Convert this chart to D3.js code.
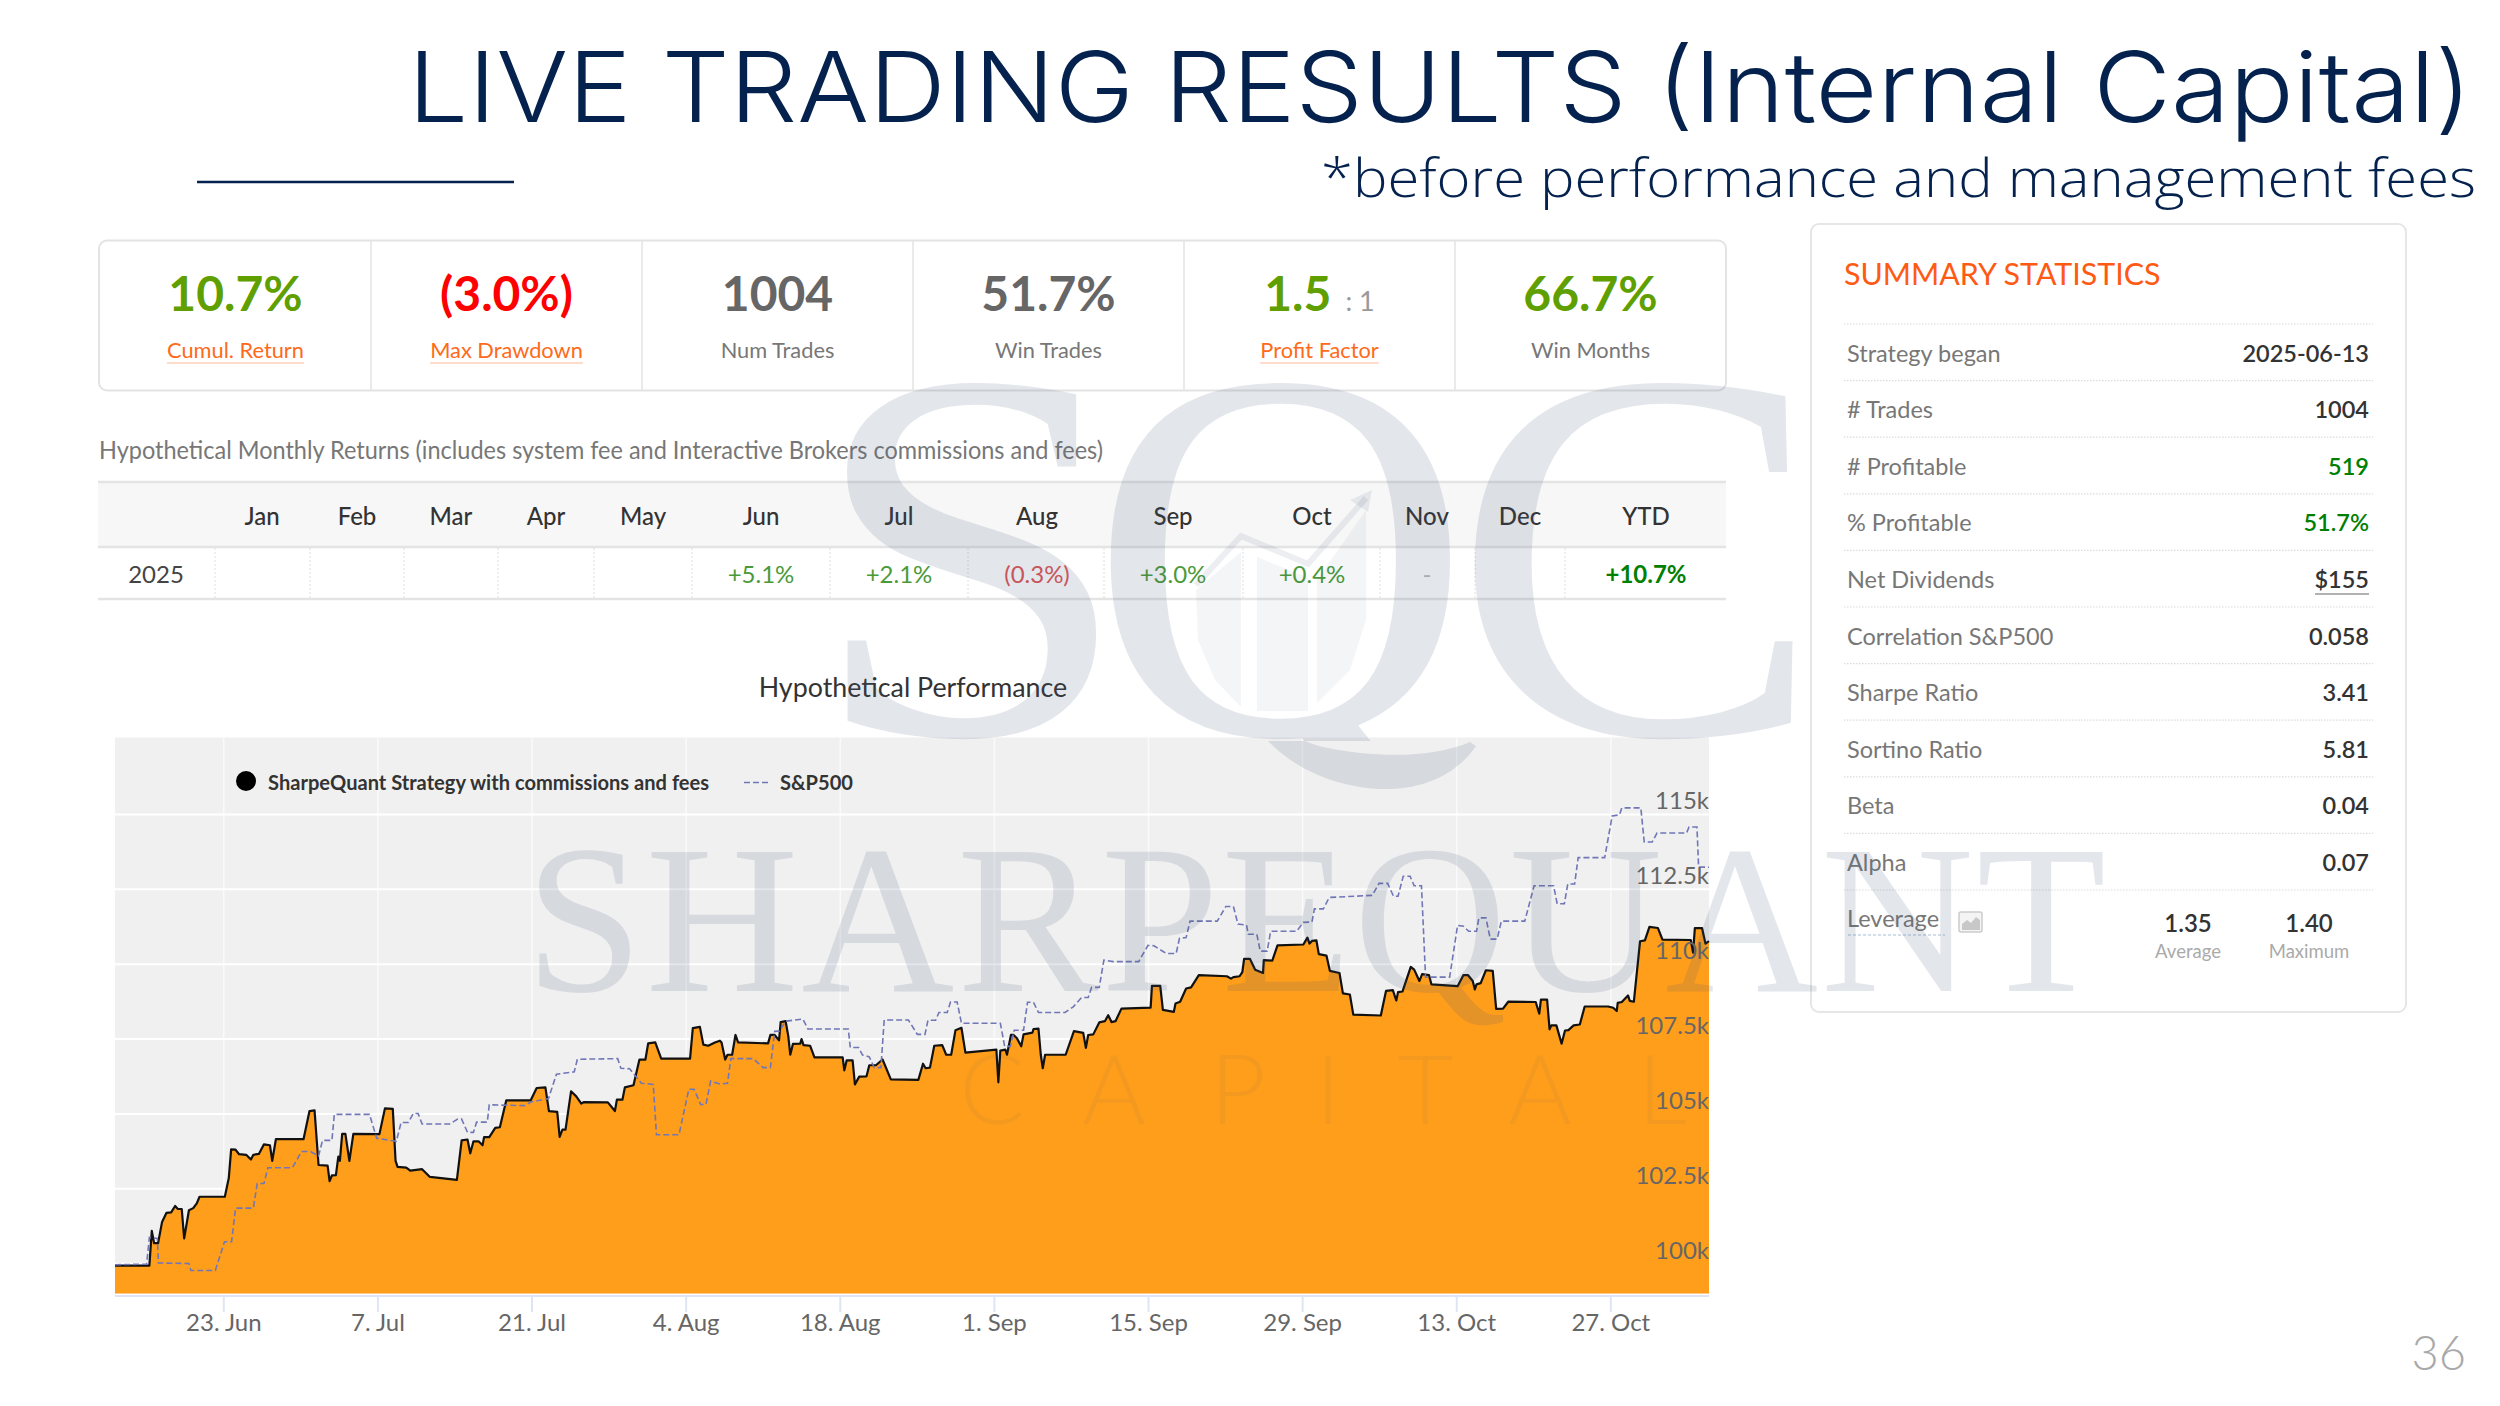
<!DOCTYPE html>
<html><head><meta charset="utf-8">
<script src="https://cdn.jsdelivr.net/npm/d3@7"></script>
<style>html,body{margin:0;padding:0;background:#fff;overflow:hidden}svg{display:block;font-family:Lato,sans-serif}</style>
</head><body><svg id="c" width="2500" height="1406"></svg>
<script>
// ---------- DATA (days since 2025-06-13, equity in $k) ----------
const strategyDays=[0.20,3.31,3.53,3.74,4.10,4.46,4.85,5.28,5.64,5.89,6.24,6.46,6.89,7.28,7.60,7.85,10.14,10.50,10.71,11.11,11.43,12.07,12.50,12.72,13.22,13.68,14.22,14.43,14.76,17.26,17.80,18.26,18.62,19.44,19.62,19.83,20.19,20.41,20.55,20.76,21.05,21.41,21.77,24.13,24.63,25.34,25.59,25.77,26.56,26.92,27.99,28.70,31.14,31.57,32.10,32.35,32.64,33.10,33.46,33.60,34.07,34.61,35.03,35.61,37.82,38.36,39.15,39.47,40.22,40.44,40.69,40.97,41.47,41.94,42.40,42.65,44.80,45.44,45.62,46.12,46.34,47.12,47.66,48.20,48.45,49.09,49.63,52.24,52.49,53.13,53.44,53.89,54.49,54.94,55.09,55.42,55.63,56.05,56.35,56.59,59.30,59.51,59.90,60.29,60.44,60.89,61.13,61.31,61.55,62.21,62.33,62.51,63.11,63.50,66.05,66.20,66.41,66.95,67.16,67.55,68.21,68.46,69.06,69.66,70.41,72.90,73.32,73.56,73.95,74.34,75.06,75.42,75.87,76.26,76.80,77.16,79.96,80.14,80.32,80.77,80.92,81.28,81.52,81.82,82.21,82.42,83.23,83.32,83.77,83.98,84.16,84.37,86.23,86.98,87.82,88.06,88.27,88.73,89.27,89.78,90.08,90.38,90.74,91.28,93.92,94.04,94.79,95.03,96.02,96.17,96.59,97.13,97.58,98.28,100.82,101.19,101.41,101.97,102.22,102.38,102.91,103.38,104.09,104.16,104.93,105.40,107.74,108.11,108.30,108.52,108.92,109.14,109.83,110.14,111.01,111.32,111.95,112.26,114.75,115.22,115.84,116.15,116.31,116.71,117.46,117.77,118.24,118.49,119.11,119.33,121.70,122.23,122.63,123.07,123.26,123.41,123.79,124.26,124.88,125.19,125.81,126.28,128.77,129.09,129.24,129.80,130.02,130.18,130.64,131.11,131.42,131.73,132.20,132.76,133.20,135.32,135.78,136.10,136.19,136.56,137.12,137.28,137.65,138.21,138.65,139.06,139.83,140.24,142.80,143.01,143.17,143.82,144.13,144.45];
const strategyValues=[99.92,99.92,101.08,100.67,100.67,101.38,101.68,101.70,101.91,101.81,101.81,100.83,101.77,101.84,102.00,102.22,102.22,102.85,103.80,103.79,103.64,103.62,103.46,103.62,103.65,103.97,103.94,103.42,104.14,104.14,105.08,105.10,103.28,103.26,102.74,102.93,102.94,103.56,103.42,104.32,104.32,103.42,104.32,104.31,105.17,105.15,103.42,103.22,103.19,103.09,103.14,102.88,102.78,104.10,104.13,103.67,104.07,104.07,103.94,104.21,104.21,104.52,104.54,105.44,105.44,105.85,105.87,105.08,105.05,104.22,104.46,104.46,105.74,105.57,105.33,105.38,105.37,105.08,105.46,105.46,105.87,105.94,106.80,106.80,107.34,107.37,106.83,106.83,107.85,107.89,107.30,107.26,107.37,107.43,107.37,106.80,106.96,106.96,107.62,107.37,107.34,107.62,107.62,107.44,108.05,108.08,107.58,106.96,107.32,107.33,107.48,107.28,107.26,106.87,106.87,106.44,106.77,106.77,105.97,106.23,106.24,106.61,106.61,106.80,106.14,106.12,106.66,106.51,106.53,107.26,107.28,106.96,106.96,107.78,107.86,107.03,107.13,106.04,107.10,107.13,106.96,107.62,107.62,107.51,107.24,107.64,107.70,107.82,107.83,106.96,106.51,106.96,106.96,107.75,107.69,107.19,107.62,107.64,108.04,108.08,108.28,108.05,108.08,108.50,108.53,109.26,109.26,108.46,108.39,108.67,108.73,109.17,109.21,109.62,109.58,109.50,109.55,109.58,109.72,110.16,110.16,109.80,109.69,110.12,110.10,110.61,110.64,110.87,110.67,110.76,110.78,110.32,110.27,109.76,109.69,109.01,108.97,108.30,108.27,109.09,109.12,108.77,109.05,109.07,109.89,109.80,109.42,109.65,109.62,109.31,109.25,109.62,109.62,109.42,109.14,109.31,109.35,109.78,109.76,108.49,108.50,108.73,108.72,108.33,108.80,108.80,107.81,107.94,107.94,107.33,107.77,107.78,107.94,107.97,108.57,108.57,108.53,108.42,108.69,108.72,108.94,108.76,108.73,110.75,110.78,111.23,111.19,110.80,110.79,110.37,111.19,111.19,110.67,110.75];
const spDays=[0.20,3.06,3.31,4.03,4.13,6.89,7.07,9.28,10.11,10.75,11.11,12.72,13.07,13.68,14.04,16.26,17.08,17.90,18.62,18.98,19.83,20.05,23.23,23.88,25.66,26.09,26.74,27.20,27.63,27.99,30.49,31.21,31.57,32.10,32.64,32.92,33.89,34.07,37.29,37.82,39.43,40.15,41.76,42.04,45.69,45.98,46.77,47.84,48.91,49.20,51.24,52.13,52.60,53.20,53.68,54.10,54.94,55.63,55.93,57.94,58.85,59.51,59.90,60.35,60.89,62.45,62.90,66.56,66.74,67.49,67.85,68.46,68.91,69.51,69.81,72.00,72.81,73.50,73.77,74.46,74.76,75.51,75.81,76.41,76.80,80.32,80.71,81.22,81.58,82.42,82.78,83.32,83.77,86.17,86.92,87.67,88.27,88.58,89.27,89.69,90.53,92.84,93.68,94.22,95.33,96.23,96.53,97.13,97.49,99.95,100.73,101.41,101.82,102.60,102.75,103.53,103.84,104.47,104.78,107.12,107.74,108.52,108.74,109.55,110.08,113.97,114.59,115.37,115.90,116.31,116.78,117.40,117.77,118.43,118.80,120.98,121.70,122.23,122.70,123.41,123.63,124.26,124.66,125.28,125.66,127.78,128.62,130.39,130.71,131.36,131.67,132.29,132.61,135.01,135.69,136.35,136.56,138.28,138.59,139.31,139.74,142.42,142.64,143.36,143.51,144.45];
const spValues=[99.95,99.97,100.86,100.83,100.01,99.99,99.76,99.76,100.72,100.72,101.84,101.84,102.66,102.66,103.19,103.19,103.73,103.73,103.58,104.10,104.10,104.97,104.97,104.17,104.07,104.70,104.70,105.00,105.00,104.65,104.65,104.81,104.81,104.37,104.37,104.71,104.71,105.29,105.26,105.38,105.50,106.31,106.39,106.81,106.83,106.51,106.49,106.01,105.97,104.29,104.29,105.81,105.81,105.30,105.30,106.08,105.98,106.01,106.83,106.83,106.53,106.53,107.74,107.75,108.08,108.15,107.82,107.82,107.20,107.20,106.95,106.89,106.53,106.53,108.12,108.12,107.64,107.64,108.11,108.11,108.37,108.37,108.72,108.72,108.01,108.01,107.24,107.24,107.78,107.78,108.71,108.71,108.37,108.37,108.56,108.87,108.87,109.21,109.21,110.12,110.07,110.07,110.61,110.60,110.34,110.34,110.85,110.87,111.42,111.42,111.91,111.91,111.32,111.29,110.98,110.98,110.42,110.42,111.08,111.08,111.38,111.39,111.83,111.83,112.21,112.28,112.68,112.68,112.25,112.25,112.92,112.92,112.60,112.60,109.55,109.55,111.28,111.25,111.08,111.08,111.53,111.53,110.82,110.82,111.42,111.42,112.60,112.60,112.00,112.00,112.66,112.66,113.54,113.54,114.93,114.97,115.20,115.20,114.06,114.06,114.36,114.36,114.56,114.56,113.23,113.22];
const xTickDates=["2025-06-23","2025-07-07","2025-07-21","2025-08-04","2025-08-18","2025-09-01","2025-09-15","2025-09-29","2025-10-13","2025-10-27"];
const xTickLabels=["23. Jun","7. Jul","21. Jul","4. Aug","18. Aug","1. Sep","15. Sep","29. Sep","13. Oct","27. Oct"];
const yTickValues=[100,102.5,105,107.5,110,112.5,115];
const yTickLabels=["100k","102.5k","105k","107.5k","110k","112.5k","115k"];
const seriesNames=["SharpeQuant Strategy with commissions and fees","S&P500"];
const kpiValues=["10.7%","(3.0%)","1004","51.7%","1.5","66.7%"];
const kpiLabels=["Cumul. Return","Max Drawdown","Num Trades","Win Trades","Profit Factor","Win Months"];
const kpiColors=["#5fa000","#ff0000","#666","#666","#5fa000","#5fa000"];
const kpiLinked=[true,true,false,false,true,false];
const monthNames=["Jan","Feb","Mar","Apr","May","Jun","Jul","Aug","Sep","Oct","Nov","Dec","YTD"];
const monthReturns=["","","","","","+5.1%","+2.1%","(0.3%)","+3.0%","+0.4%","-","","+10.7%"];
const statLabels=["Strategy began","# Trades","# Profitable","% Profitable","Net Dividends","Correlation S&P500","Sharpe Ratio","Sortino Ratio","Beta","Alpha"];
const statValues=["2025-06-13","1004","519","51.7%","$155","0.058","3.41","5.81","0.04","0.07"];
const statColors=["#333","#333","#008000","#008000","#333","#333","#333","#333","#333","#333"];
const leverageValues=["1.35","1.40"];
const leverageLabels=["Average","Maximum"];

// ---------- LAYOUT ----------
const svg=d3.select("#c");
const navy="#04224d";
const T=(x,y,s,size,fill,anchor,weight)=>svg.append("text").attr("x",x).attr("y",y).text(s)
  .attr("font-size",size).attr("fill",fill).attr("text-anchor",anchor||"start").attr("font-weight",weight||400);

// header
T(408,122,"LIVE TRADING RESULTS (Internal Capital)",98,navy,"start",300).attr("font-family","Inter")
  .attr("textLength",2064).attr("lengthAdjust","spacingAndGlyphs");
T(1321,197,"*before performance and management fees",54,navy,"start",300).attr("font-family","'Open Sans'")
  .attr("textLength",1155).attr("lengthAdjust","spacingAndGlyphs");
svg.append("line").attr("x1",197).attr("x2",514).attr("y1",182).attr("y2",182).attr("stroke",navy).attr("stroke-width",2.5);
T(2466,1370,"36",47,"#a8a8a8","end",300);

// KPI strip
svg.append("rect").attr("x",99).attr("y",240.5).attr("width",1627).attr("height",150).attr("rx",8)
  .attr("fill","#fff").attr("stroke","#e3e3e3").attr("stroke-width",2);
const kpiX=d3.scaleLinear().domain([0,6]).range([100,1726]);
kpiValues.forEach((v,i)=>{
  const cx=(kpiX(i)+kpiX(i+1))/2;
  if(i>0) svg.append("line").attr("x1",kpiX(i)).attr("x2",kpiX(i)).attr("y1",241).attr("y2",390).attr("stroke","#e3e3e3").attr("stroke-width",1.5);
  const t=T(cx,311,v,48,kpiColors[i],"middle",700);
  if(v==="1.5"){t.append("tspan").text(": 1").attr("dx",14).attr("font-size",27).attr("fill","#999").attr("font-weight",400);}
  const lab=T(cx,358,kpiLabels[i],21.8,kpiLinked[i]?"#ff6a1a":"#777","middle");
  if(kpiLinked[i]){const w=lab.node().getComputedTextLength();
    svg.append("line").attr("x1",cx-w/2).attr("x2",cx+w/2).attr("y1",363).attr("y2",363).attr("stroke","#ffd0b8").attr("stroke-width",1.5);}
});

// monthly table
T(99,459,"Hypothetical Monthly Returns (includes system fee and Interactive Brokers commissions and fees)",25,"#777")
  .attr("textLength",1004).attr("lengthAdjust","spacingAndGlyphs");
svg.append("rect").attr("x",98).attr("y",482).attr("width",1628).attr("height",65).attr("fill","#f7f7f7");
[482,547,599].forEach(y=>svg.append("line").attr("x1",98).attr("x2",1726).attr("y1",y).attr("y2",y).attr("stroke","#e4e4e4").attr("stroke-width",2.5));
const colCenters=[262,357,451,546,643,761,899,1037,1173,1312,1427,1520,1646];
const colDividers=[215,310,404,498,594,692,830,968,1104,1243,1380,1475,1565];
colDividers.forEach(x=>svg.append("line").attr("x1",x).attr("x2",x).attr("y1",548).attr("y2",598).attr("stroke","#dedede").attr("stroke-dasharray","2 2"));
T(156,583,"2025",24,"#444","middle");
monthNames.forEach((m,i)=>{
  T(colCenters[i],525,m,24,"#333","middle",500);
  const r=monthReturns[i]; if(!r) return;
  let col=r.startsWith("(")?"#e05555":"#4a9a3a", w=400;
  if(m==="YTD"){col="#008000";w=700;} if(r==="-") col="#bbb";
  T(colCenters[i],583,r,24,col,"middle",w);
});

// ---------- CHART ----------
const P={l:115,r:1709,t:737.5,b:1293.5};
// day offsets were read against a 11.05 px/day ruler; the axis ticks sit 11.008 px/day apart
const dayStretch=1.00382, dayShift=-0.039;
const day0=Date.UTC(2025,5,13), toDate=d=>new Date(day0+(dayStretch*d+dayShift)*864e5);
const x=d3.scaleUtc().domain([toDate(0.2),toDate(144.45)]).range([P.l,P.r]);
const y=d3.scaleLinear().domain([98.99,117.55]).range([P.b,P.t]);
T(913,697,"Hypothetical Performance",26.8,"#333","middle");
svg.append("rect").attr("x",P.l).attr("y",P.t).attr("width",P.r-P.l).attr("height",P.b-P.t).attr("fill","#f0f0f0");
const xTicks=xTickDates.map(s=>new Date(s+"T00:00:00Z"));
// gridlines
const gx=svg.append("g").attr("transform",`translate(0,${P.b})`)
  .call(d3.axisBottom(x).tickValues(xTicks).tickSize(-(P.b-P.t)).tickFormat(""));
gx.select(".domain").remove(); gx.selectAll("line").attr("stroke","#fafafa").attr("stroke-width",1.5);
const gy=svg.append("g").attr("transform",`translate(${P.r},0)`)
  .call(d3.axisLeft(y).tickValues(yTickValues).tickSize(P.r-P.l).tickFormat(""));
gy.select(".domain").remove(); gy.selectAll("line").attr("stroke","#fff").attr("stroke-width",2);
// series
const strat=strategyDays.map((d,i)=>[toDate(d),strategyValues[i]]);
const sp=spDays.map((d,i)=>[toDate(d),spValues[i]]);
svg.append("path").datum(strat).attr("fill","#ff9e1b")
  .attr("d",d3.area().x(d=>x(d[0])).y0(P.b).y1(d=>y(d[1])));
const ln=d3.line().x(d=>x(d[0])).y(d=>y(d[1]));
svg.append("path").datum(strat).attr("fill","none").attr("stroke","#111").attr("stroke-width",2.2).attr("stroke-linejoin","round").attr("d",ln);
svg.append("path").datum(sp).attr("fill","none").attr("stroke","#7076b6").attr("stroke-width",1.6).attr("stroke-dasharray","6 3").attr("d",ln);
// x axis
const ax=svg.append("g").attr("transform","translate(0,1296)")
  .call(d3.axisBottom(x).tickValues(xTicks).tickSize(16).tickPadding(4).tickFormat((d,i)=>xTickLabels[i]));
ax.select(".domain").attr("stroke","#dfe5f4").attr("stroke-width",2).attr("d",`M${P.l},0H${P.r}`);
ax.selectAll("line").attr("stroke","#dfe5f4").attr("stroke-width",2);
ax.selectAll("text").attr("font-family","Lato").attr("font-size",24).attr("fill","#666").attr("y",35).attr("dy",0);
// y axis labels sit above gridlines, inside the plot
const ay=svg.append("g").attr("transform",`translate(${P.r},0)`)
  .call(d3.axisLeft(y).tickValues(yTickValues).tickSize(0).tickPadding(0).tickFormat((d,i)=>yTickLabels[i]));
ay.select(".domain").remove();
ay.selectAll("text").attr("font-family","Lato").attr("font-size",24).attr("fill","#666").attr("text-anchor","end").attr("dy",-5);
// legend
svg.append("circle").attr("cx",246).attr("cy",781).attr("r",10).attr("fill","#000");
T(268,790,seriesNames[0],20.1,"#333","start",700);
svg.append("line").attr("x1",744).attr("x2",769).attr("y1",782.5).attr("y2",782.5).attr("stroke","#7076b6").attr("stroke-width",1.6).attr("stroke-dasharray","6 3");
T(780,790,seriesNames[1],20.1,"#333","start",700);

// ---------- SUMMARY PANEL ----------
svg.append("rect").attr("x",1811).attr("y",224).attr("width",595).attr("height",788).attr("rx",8).attr("fill","#fff").attr("stroke","#e6e6e6").attr("stroke-width",2);
T(1844,285,"SUMMARY STATISTICS",30.4,"#ff5a14");
const rowY=d3.scaleLinear().domain([0,1]).range([324,380.6]);
d3.range(11).forEach(i=>svg.append("line").attr("x1",1844).attr("x2",2373).attr("y1",rowY(i)).attr("y2",rowY(i)).attr("stroke","#dcdcdc").attr("stroke-width",1.2).attr("stroke-dasharray","1.5 1.5"));
statLabels.forEach((s,i)=>{
  T(1847,rowY(i)+37.5,s,23.5,"#777");
  T(2369,rowY(i)+37.5,statValues[i],23.5,statColors[i],"end",600);
});
svg.append("line").attr("x1",2315).attr("x2",2369).attr("y1",594).attr("y2",594).attr("stroke","#999").attr("stroke-width",1.5);
T(1847,927,"Leverage",23.5,"#777");
svg.append("line").attr("x1",1848).attr("x2",1945).attr("y1",935).attr("y2",935).attr("stroke","#c3d4e8").attr("stroke-width",1.5).attr("stroke-dasharray","3 2");
svg.append("rect").attr("x",1959).attr("y",912).attr("width",23).attr("height",20).attr("rx",2).attr("fill","#f4f4f4").attr("stroke","#ccc").attr("stroke-width",1.5);
svg.append("path").attr("d","M1962,930V924L1967,920L1971,923L1976,917L1980,920V930Z").attr("fill","#c8c8c8");
[2188,2309].forEach((cx,i)=>{T(cx,932,leverageValues[i],24,"#333","middle",600);T(cx,958,leverageLabels[i],18.5,"#aaa","middle");});

// ---------- WATERMARK (on top of everything) ----------
const wmCol="rgb(70,90,120)";
svg.append("defs").append("clipPath").attr("id","qclip").append("rect").attr("x",1000).attr("y",300).attr("width",600).attr("height",441);
const wm=svg.append("g").attr("pointer-events","none").attr("font-family","'Liberation Serif'").attr("fill",wmCol).attr("fill-opacity",0.15);
wm.append("text").attr("transform","translate(808,734) scale(1.1,1)").attr("font-size",530).text("S");
wm.append("text").attr("x",1089).attr("y",734).attr("font-size",530).attr("clip-path","url(#qclip)").text("Q");
wm.append("text").attr("transform","translate(1452,734) scale(1.05,1)").attr("font-size",530).text("C");
wm.append("path").attr("d","M1268,741C1300,775 1350,790 1390,789C1430,788 1460,770 1476,746L1470,742C1440,755 1400,757 1360,753C1335,750 1315,746 1305,741Z");
wm.append("text").attr("x",525).attr("y",991).attr("font-size",212).attr("textLength",1581).attr("lengthAdjust","spacing").text("SHARPEQUANT");
const lg=svg.append("g").attr("fill",wmCol).attr("fill-opacity",0.06);
["1196,590 1241,552 1241,707 1215,680 1198,640","1257,557 1308,578 1308,711 1257,711","1317,580 1366,510 1366,620 1350,670 1317,703"].forEach(p=>lg.append("polygon").attr("points",p));
svg.append("polyline").attr("points","1196,585 1241,536 1308,564 1366,498").attr("fill","none").attr("stroke",wmCol).attr("stroke-opacity",0.1).attr("stroke-width",6);
svg.append("path").attr("d","M1372,490L1350,500L1368,512Z").attr("fill",wmCol).attr("fill-opacity",0.1);
const cap=svg.append("g").attr("font-family","Lato").attr("font-weight",300).attr("font-size",97).attr("fill",wmCol).attr("fill-opacity",0.06).attr("text-anchor","middle");
[["C",992],["A",1114],["P",1238],["I",1328],["T",1425],["A",1540],["L",1662]].forEach(([c,px])=>cap.append("text").attr("x",px).attr("y",1124).text(c));
</script></body></html>
